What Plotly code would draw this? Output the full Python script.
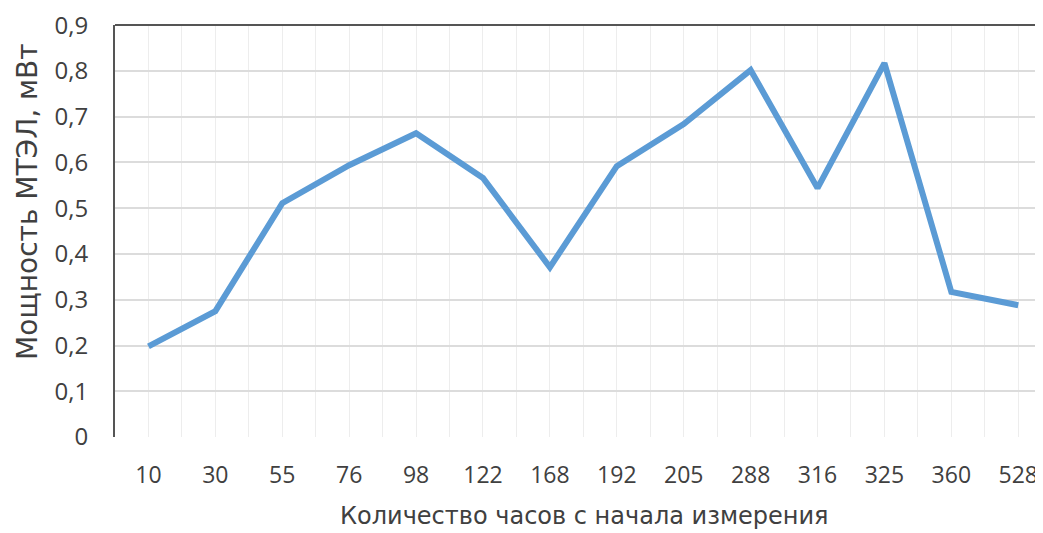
import plotly.graph_objects as go

hours = ["10", "30", "55", "76", "98", "122", "168", "192", "205", "288", "316", "325", "360", "528"]
power = [0.198, 0.275, 0.511, 0.594, 0.664, 0.566, 0.371, 0.592, 0.684, 0.802, 0.544, 0.817, 0.317, 0.288]
y_ticks = [0, 0.1, 0.2, 0.3, 0.4, 0.5, 0.6, 0.7, 0.8, 0.9]
y_tick_labels = ["0", "0,1", "0,2", "0,3", "0,4", "0,5", "0,6", "0,7", "0,8", "0,9"]
x_title = "Количество часов с начала измерения"
y_title = "Мощность МТЭЛ, мВт"

idx = list(range(len(hours)))
half = [i - 0.5 for i in range(len(hours) + 1)]

fig = go.Figure()
fig.add_trace(go.Scatter(x=idx, y=power, mode="lines",
                         line=dict(color="#5B9BD5", width=6), showlegend=False))

font = "'Open Sans', sans-serif"
tfont = "'DejaVu Sans', sans-serif"
txt = "#404040"
fig.update_layout(
    width=1035, height=525,
    margin=dict(l=107, r=0, t=17, b=96),
    paper_bgcolor="white", plot_bgcolor="white",
    font=dict(family=font, color=txt, size=22),
    xaxis=dict(
        range=[-0.5, 13.37], tickvals=idx, ticktext=hours,
        showgrid=True, gridcolor="#EDEDED", gridwidth=1,
        minor=dict(tickvals=half, showgrid=True, gridcolor="#EDEDED", gridwidth=1),
        ticks="outside", ticklen=17, tickcolor="rgba(0,0,0,0)",
        tickfont=dict(size=23, color=txt), ticklabeloverflow="allow",
        zeroline=False, showline=False,
    ),
    yaxis=dict(
        range=[0, 0.9005], tickvals=y_ticks, ticktext=y_tick_labels,
        showgrid=True, gridcolor="#DCDCDC", gridwidth=1.5,
        ticks="outside", ticklen=20, tickcolor="rgba(0,0,0,0)",
        tickfont=dict(size=24, color=txt), ticklabeloverflow="allow",
        zeroline=False, showline=True, linecolor="#555555", linewidth=2,
    ),
)
fig.add_shape(type="line", xref="paper", yref="paper", x0=0, x1=1, y0=1, y1=1,
              line=dict(color="#555555", width=2))
fig.add_annotation(text=x_title, xref="paper", yref="paper", x=0.506, y=-0.192,
                   xanchor="center", yanchor="middle", showarrow=False,
                   font=dict(family=tfont, size=24, color=txt))
fig.add_annotation(text=y_title, xref="paper", yref="paper", x=-0.0938, y=0.573,
                   xanchor="center", yanchor="middle", showarrow=False, textangle=-90,
                   font=dict(family=tfont, size=28, color=txt))

fig.write_html("out.html")
